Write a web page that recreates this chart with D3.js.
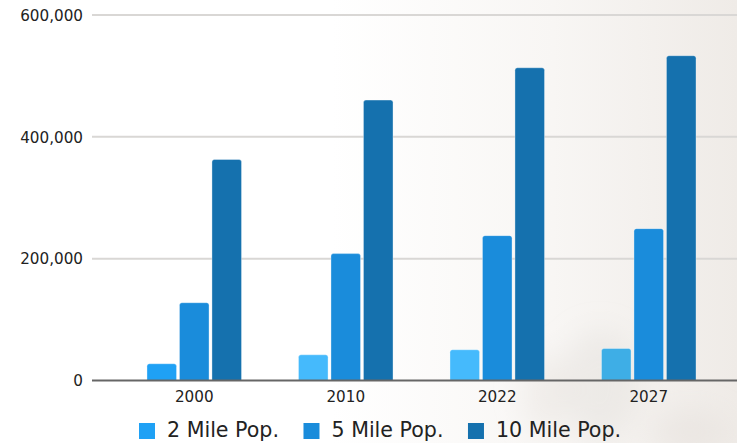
<!DOCTYPE html>
<html>
<head>
<meta charset="utf-8">
<script src="https://cdn.jsdelivr.net/npm/d3@7"></script>
<style>
  html, body { margin: 0; padding: 0; background: #fff; }
  svg { display: block; }
</style>
</head>
<body>
<svg id="chart" width="737" height="443"></svg>
<script>
// Population by ring distance, per year
const years = ["2000", "2010", "2022", "2027"];
const seriesNames = ["2 Mile Pop.", "5 Mile Pop.", "10 Mile Pop."];
const twoMile = [27500, 42200, 50500, 52600];
const fiveMile = [127700, 208300, 237800, 249300];
const tenMile = [362800, 460300, 513400, 533200];
const yTicks = [0, 200000, 400000, 600000];

const seriesValues = [twoMile, fiveMile, tenMile];
const seriesColors = ["#1fa1f5", "#1a8cdb", "#1571ae"];
// the 2-mile bars after 2000 are drawn in a lighter shade
const twoMileShades = ["#1fa1f5", "#45bafc", "#45bafc", "#3eaee6"];

const W = 737, H = 443;
const svg = d3.select("#chart");
const defs = svg.append("defs");

// soft backdrop: white on the left fading to warm grey on the right
const bg = defs.append("linearGradient").attr("id", "bg").attr("x1", 0).attr("x2", 1).attr("y1", 0).attr("y2", 0);
bg.append("stop").attr("offset", "0.45").attr("stop-color", "#ffffff");
bg.append("stop").attr("offset", "0.75").attr("stop-color", "#f8f6f4");
bg.append("stop").attr("offset", "1").attr("stop-color", "#efebe7");
svg.append("rect").attr("width", W).attr("height", H).attr("fill", "url(#bg)");

const blur = defs.append("filter").attr("id", "blur").attr("x", "-50%").attr("y", "-50%").attr("width", "200%").attr("height", "200%");
blur.append("feGaussianBlur").attr("stdDeviation", 14);
const back = svg.append("g").attr("filter", "url(#blur)");
back.append("ellipse").attr("cx", 600).attr("cy", 385).attr("rx", 40).attr("ry", 55).attr("fill", "#dedad4").attr("opacity", 0.35);
back.append("ellipse").attr("cx", 545).attr("cy", 395).attr("rx", 22).attr("ry", 40).attr("fill", "#e2ded8").attr("opacity", 0.35);
back.append("ellipse").attr("cx", 690).attr("cy", 432).attr("rx", 40).attr("ry", 22).attr("fill", "#e0dbd5").attr("opacity", 0.35);

const y = d3.scaleLinear().domain([0, 600000]).range([380.5, 15]);
const x = d3.scaleBand().domain(years).range([118.5, 724.5]).paddingInner(0.376).paddingOuter(0.188);
const xi = d3.scaleBand().domain(seriesNames).range([0, x.bandwidth()]).paddingInner(0.09);

const font = "'DejaVu Sans', Verdana, sans-serif";

// gridlines and y tick labels
const yAxis = d3.axisLeft(y).tickValues(yTicks).tickFormat(d3.format(",")).tickSize(0).tickPadding(0);
const ya = svg.append("g").attr("transform", "translate(83,0)").call(yAxis);
ya.select(".domain").remove();
ya.selectAll("text").attr("font-family", font).attr("font-size", 15.2).attr("fill", "#222").attr("dy", "0.34em");

svg.append("g").selectAll("line").data(yTicks.filter(d => d > 0)).join("line")
  .attr("x1", 92).attr("x2", W)
  .attr("y1", d => y(d)).attr("y2", d => y(d))
  .attr("stroke", "#d9d7d5").attr("stroke-width", 2);

// bars with slightly rounded top corners
function barPath(x0, w, top, bottom, r) {
  r = Math.min(r, (bottom - top) / 2, w / 2);
  return `M${x0},${bottom}V${top + r}Q${x0},${top} ${x0 + r},${top}H${x0 + w - r}Q${x0 + w},${top} ${x0 + w},${top + r}V${bottom}Z`;
}

const groups = svg.append("g").selectAll("g").data(years).join("g")
  .attr("transform", d => `translate(${x(d)},0)`);

groups.selectAll("path").data((yr, i) => seriesNames.map((s, k) => ({ s, k, i, v: seriesValues[k][i] })))
  .join("path")
  .attr("d", d => barPath(xi(d.s), xi.bandwidth(), y(d.v), y(0), 2.5))
  .attr("fill", d => d.k === 0 ? twoMileShades[d.i] : seriesColors[d.k])
  .attr("stroke", "rgba(255,255,255,0.35)")
  .attr("stroke-width", 1);

// baseline
svg.append("line").attr("x1", 92).attr("x2", W).attr("y1", y(0)).attr("y2", y(0))
  .attr("stroke", "#666").attr("stroke-width", 2);

// x axis labels
const xAxis = d3.axisBottom(x).tickSize(0).tickPadding(0);
const xa = svg.append("g").attr("transform", "translate(0,401.5)").call(xAxis);
xa.select(".domain").remove();
xa.selectAll("text").attr("font-family", font).attr("font-size", 15.2).attr("fill", "#222").attr("dy", 0);

// legend
const legend = svg.append("g");
let lx = 139;
seriesNames.forEach((name, k) => {
  legend.append("rect").attr("x", lx).attr("y", 423).attr("width", 16).attr("height", 16).attr("fill", seriesColors[k]);
  const t = legend.append("text").attr("x", lx + 28).attr("y", 437)
    .attr("font-family", font).attr("font-size", 20.6).attr("fill", "#222").text(name);
  lx += 28 + t.node().getComputedTextLength() + 24.5;
});
</script>
</body>
</html>
